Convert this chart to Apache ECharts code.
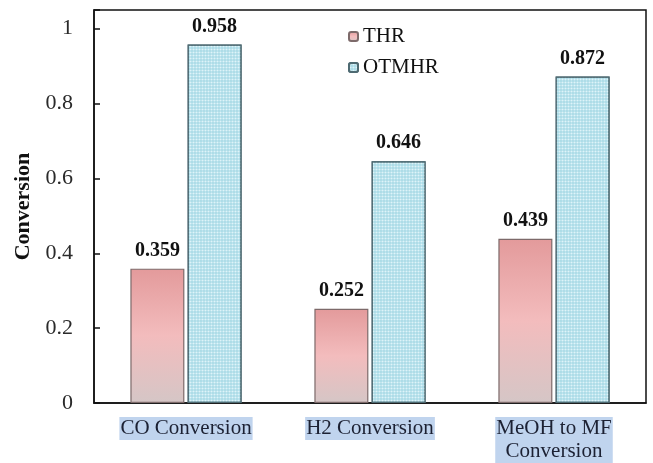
<!DOCTYPE html>
<html><head><meta charset="utf-8">
<script src="https://cdn.jsdelivr.net/npm/echarts@6/dist/echarts.min.js"></script>
<style>html,body{margin:0;padding:0;background:#fff}#c{width:653px;height:463px}</style>
</head><body><div id="c"></div>
<script>
const categories = ['CO Conversion', 'H2 Conversion', 'MeOH to MF\nConversion'];
const thr = [0.359, 0.252, 0.439];
const otmhr = [0.958, 0.646, 0.872];
const seriesNames = ['THR', 'OTMHR'];
const yTicks = [0, 0.2, 0.4, 0.6, 0.8, 1];

const font = 'Liberation Serif, Times New Roman, serif';
const chart = echarts.init(document.getElementById('c'));
const labelOpt = {show: true, position: 'top', distance: 8, fontFamily: font, fontWeight: 'bold', fontSize: 20, color: '#111', formatter: p => p.value.toFixed(3)};
chart.setOption({
  animation: false,
  grid: {left: 94, right: 7, top: 10, bottom: 59, show: true, borderColor: '#111', borderWidth: 1.5, backgroundColor: 'transparent'},
  legend: {
    orient: 'vertical', left: 343, top: 21, itemGap: 10, itemWidth: 9, itemHeight: 9,
    textStyle: {fontFamily: font, fontSize: 21, color: '#111'},
    data: seriesNames
  },
  xAxis: {
    type: 'category', data: categories,
    axisLine: {lineStyle: {color: '#111', width: 1.5}},
    axisTick: {show: false},
    axisLabel: {fontFamily: font, fontSize: 21, color: '#1c2133', margin: 14, lineHeight: 23,
      backgroundColor: '#c0d4ee', padding: [0, 1, 0, 1]}
  },
  yAxis: {
    type: 'value', min: 0, max: 1.05, interval: 0.2,
    name: 'Conversion', nameLocation: 'middle', nameGap: 60, nameRotate: 90,
    nameTextStyle: {fontFamily: font, fontWeight: 'bold', fontSize: 22, color: '#111'},
    axisLine: {show: true, lineStyle: {color: '#111', width: 1.5}},
    axisTick: {show: true, inside: true, length: 6, lineStyle: {color: '#111', width: 1.5}},
    splitLine: {show: false},
    axisLabel: {fontFamily: font, fontSize: 22, color: '#2a2a2a', margin: 21,
      formatter: v => yTicks.includes(Math.round(v * 100) / 100) ? String(Math.round(v * 100) / 100) : ''}
  },
  series: [
    {
      name: seriesNames[0], type: 'bar', data: thr, barWidth: 54, barGap: '6%',
      itemStyle: {
        color: new echarts.graphic.LinearGradient(0, 0, 0, 1, [
          {offset: 0, color: '#e39a9b'}, {offset: 0.5, color: '#f3bcbd'}, {offset: 1, color: '#d5c6c6'}
        ]),
        borderColor: '#7d6a6a', borderWidth: 1.2
      },
      label: labelOpt
    },
    {
      name: seriesNames[1], type: 'bar', data: otmhr, barWidth: 54,
      itemStyle: {
        color: '#a9dae6',
        borderColor: '#4e6a72', borderWidth: 1.2,
        decal: {symbol: 'circle', symbolSize: 0.7, color: 'rgba(240,252,255,0.75)', dashArrayX: [[3, 0]], dashArrayY: [3, 0], rotation: 0}
      },
      label: labelOpt
    }
  ]
});
</script></body></html>
